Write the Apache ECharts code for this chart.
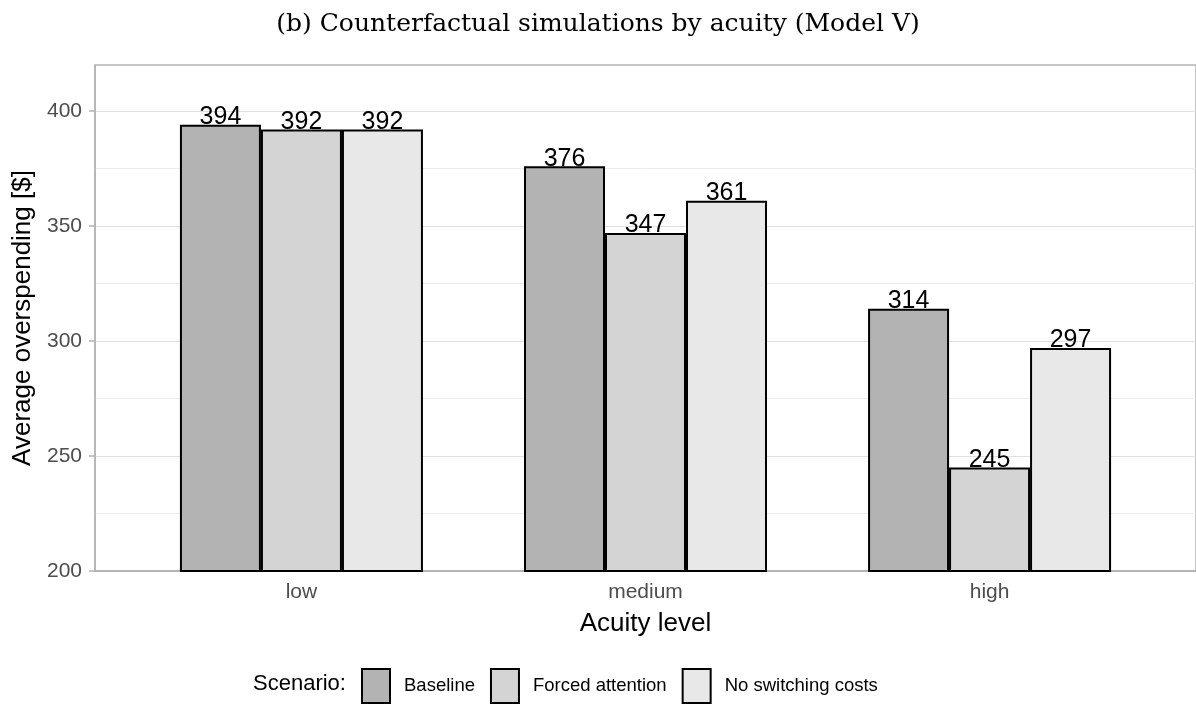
<!DOCTYPE html>
<html>
<head>
<meta charset="utf-8">
<script src="https://cdn.jsdelivr.net/npm/echarts@6/dist/echarts.min.js"></script>
<style>
  html, body { margin: 0; padding: 0; background: #fff; }
  #chart { width: 1196px; height: 716px; }
</style>
</head>
<body>
<div id="chart"></div>
<script>
// data
const categories = ["low", "medium", "high"];
const scenarios = ["Baseline", "Forced attention", "No switching costs"];
const baseline = [394, 376, 314];
const forcedAttention = [392, 347, 245];
const noSwitchingCosts = [392, 361, 297];
const yTicks = [200, 250, 300, 350, 400];

const fills = ["#b3b3b3", "#d4d4d4", "#e8e8e8"];
const font = "Liberation Sans";

const chart = echarts.init(document.getElementById("chart"));

// category positions 1,2,3 on a value axis (ggplot style padding of 0.6)
function toPoints(vals) {
  return vals.map((v, i) => [i + 1, v]);
}

function makeSeries(name, vals, idx) {
  return {
    name: name,
    type: "bar",
    data: toPoints(vals),
    barWidth: 81,
    barGap: "0%",
    itemStyle: {
      color: fills[idx],
      borderColor: "#000",
      borderWidth: 2,
    },
    label: {
      show: true,
      position: "top",
      distance: -5,
      fontFamily: font,
      fontSize: 25,
      color: "#000",
      formatter: (p) => p.value[1],
    },
  };
}

const option = {
  animation: false,
  title: [
    {
      text: "(b) Counterfactual simulations by acuity (Model V)",
      left: "center",
      top: 7,
      textStyle: {
        fontFamily: "DejaVu Serif",
        fontWeight: "normal",
        fontSize: 25,
        color: "#000",
      },
    },
    {
      text: "Scenario:",
      left: 253,
      top: 673,
      padding: 0,
      textStyle: {
        fontFamily: font,
        fontWeight: "normal",
        fontSize: 22,
        color: "#000",
      },
    },
  ],
  legend: {
    left: 361,
    top: 668,
    padding: 0,
    itemWidth: 28,
    itemHeight: 34,
    itemGap: 15,
    icon: "rect",
    textStyle: {
      fontFamily: font,
      fontSize: 18.5,
      color: "#000",
      padding: [0, 0, 0, 9],
    },
    itemStyle: { borderColor: "#000", borderWidth: 2 },
    data: scenarios,
  },
  grid: {
    left: 95,
    top: 65,
    right: 0,
    bottom: 145,
    show: true,
    borderColor: "#b3b3b3",
    borderWidth: 1.5,
  },
  xAxis: {
    type: "value",
    min: 0.4,
    max: 3.6,
    name: "Acuity level",
    nameLocation: "middle",
    nameGap: 40,
    nameTextStyle: { fontFamily: font, fontSize: 26, color: "#000" },
    axisLine: { show: true, lineStyle: { color: "#b3b3b3", width: 2 } },
    axisTick: { show: false },
    splitLine: { show: false },
    axisLabel: {
      customValues: [1, 2, 3],
      formatter: (v) => categories[Math.round(v) - 1],
      fontFamily: font,
      fontSize: 21,
      color: "#4d4d4d",
      margin: 11,
    },
  },
  yAxis: {
    type: "value",
    min: 200,
    max: 420,
    interval: 50,
    name: "Average overspending [$]",
    nameLocation: "middle",
    nameGap: 57,
    nameTextStyle: { fontFamily: font, fontSize: 26, color: "#000" },
    axisLine: { show: true, lineStyle: { color: "#b3b3b3", width: 1.5 } },
    axisTick: {
      show: true,
      customValues: yTicks,
      length: 6,
      lineStyle: { color: "#b3b3b3", width: 1.5 },
    },
    axisLabel: {
      customValues: yTicks,
      fontFamily: font,
      fontSize: 21,
      color: "#4d4d4d",
      margin: 13,
    },
    splitLine: { show: true, lineStyle: { color: "#e0e0e0", width: 1.2 } },
    minorTick: { show: false, splitNumber: 2 },
    minorSplitLine: { show: true, lineStyle: { color: "#ececec", width: 1 } },
  },
  series: [
    makeSeries(scenarios[0], baseline, 0),
    makeSeries(scenarios[1], forcedAttention, 1),
    makeSeries(scenarios[2], noSwitchingCosts, 2),
  ],
};

chart.setOption(option);
</script>
</body>
</html>
